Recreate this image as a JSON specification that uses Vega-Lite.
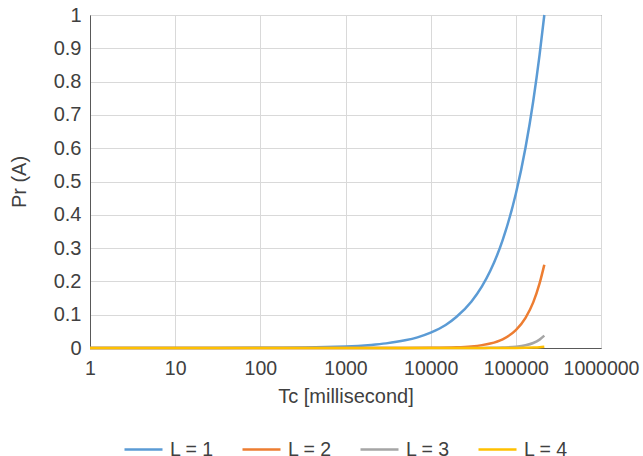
{
  "$schema": "https://vega.github.io/schema/vega-lite/v6.json",
  "width": 511,
  "height": 333,
  "autosize": {"type": "none"},
  "padding": {"left": 90, "top": 15, "right": 42, "bottom": 108},
  "background": "white",
  "config": {
    "font": "Liberation Sans",
    "view": {"stroke": "#595959", "strokeWidth": 1}
  },
  "data": {
    "values": [
      {"Tc": 1, "Pr": 0.0000046, "L": "L = 1"},
      {"Tc": 10, "Pr": 0.000046, "L": "L = 1"},
      {"Tc": 100, "Pr": 0.00046, "L": "L = 1"},
      {"Tc": 1000, "Pr": 0.0046, "L": "L = 1"},
      {"Tc": 2000, "Pr": 0.0093, "L": "L = 1"},
      {"Tc": 3000, "Pr": 0.0139, "L": "L = 1"},
      {"Tc": 5000, "Pr": 0.023, "L": "L = 1"},
      {"Tc": 7000, "Pr": 0.032, "L": "L = 1"},
      {"Tc": 10000, "Pr": 0.046, "L": "L = 1"},
      {"Tc": 15000, "Pr": 0.069, "L": "L = 1"},
      {"Tc": 20000, "Pr": 0.093, "L": "L = 1"},
      {"Tc": 30000, "Pr": 0.139, "L": "L = 1"},
      {"Tc": 40000, "Pr": 0.185, "L": "L = 1"},
      {"Tc": 50000, "Pr": 0.231, "L": "L = 1"},
      {"Tc": 70000, "Pr": 0.324, "L": "L = 1"},
      {"Tc": 100000, "Pr": 0.463, "L": "L = 1"},
      {"Tc": 130000, "Pr": 0.602, "L": "L = 1"},
      {"Tc": 160000, "Pr": 0.741, "L": "L = 1"},
      {"Tc": 190000, "Pr": 0.88, "L": "L = 1"},
      {"Tc": 216000, "Pr": 1.0, "L": "L = 1"},

      {"Tc": 1, "Pr": 0, "L": "L = 2"},
      {"Tc": 1000, "Pr": 0.0000053, "L": "L = 2"},
      {"Tc": 5000, "Pr": 0.00013, "L": "L = 2"},
      {"Tc": 10000, "Pr": 0.00054, "L": "L = 2"},
      {"Tc": 20000, "Pr": 0.0021, "L": "L = 2"},
      {"Tc": 30000, "Pr": 0.0048, "L": "L = 2"},
      {"Tc": 40000, "Pr": 0.0086, "L": "L = 2"},
      {"Tc": 50000, "Pr": 0.0134, "L": "L = 2"},
      {"Tc": 70000, "Pr": 0.0262, "L": "L = 2"},
      {"Tc": 100000, "Pr": 0.0536, "L": "L = 2"},
      {"Tc": 130000, "Pr": 0.0906, "L": "L = 2"},
      {"Tc": 160000, "Pr": 0.137, "L": "L = 2"},
      {"Tc": 190000, "Pr": 0.194, "L": "L = 2"},
      {"Tc": 216000, "Pr": 0.25, "L": "L = 2"},

      {"Tc": 1, "Pr": 0, "L": "L = 3"},
      {"Tc": 10000, "Pr": 0.0000037, "L": "L = 3"},
      {"Tc": 30000, "Pr": 0.0001, "L": "L = 3"},
      {"Tc": 50000, "Pr": 0.00046, "L": "L = 3"},
      {"Tc": 70000, "Pr": 0.0014, "L": "L = 3"},
      {"Tc": 100000, "Pr": 0.0037, "L": "L = 3"},
      {"Tc": 130000, "Pr": 0.0081, "L": "L = 3"},
      {"Tc": 160000, "Pr": 0.015, "L": "L = 3"},
      {"Tc": 190000, "Pr": 0.0252, "L": "L = 3"},
      {"Tc": 216000, "Pr": 0.037, "L": "L = 3"},

      {"Tc": 1, "Pr": 0, "L": "L = 4"},
      {"Tc": 50000, "Pr": 0.00002, "L": "L = 4"},
      {"Tc": 100000, "Pr": 0.00018, "L": "L = 4"},
      {"Tc": 130000, "Pr": 0.00051, "L": "L = 4"},
      {"Tc": 160000, "Pr": 0.00118, "L": "L = 4"},
      {"Tc": 190000, "Pr": 0.0023, "L": "L = 4"},
      {"Tc": 216000, "Pr": 0.0039, "L": "L = 4"}
    ]
  },
  "mark": {"type": "line", "strokeWidth": 2.5, "interpolate": "monotone"},
  "encoding": {
    "x": {
      "field": "Tc",
      "type": "quantitative",
      "scale": {"type": "log", "domain": [1, 1000000], "nice": false},
      "axis": {
        "values": [1, 10, 100, 1000, 10000, 100000, 1000000],
        "format": "d",
        "title": "Tc [millisecond]",
        "ticks": false,
        "domain": true,
        "domainColor": "#595959",
        "gridColor": "#d9d9d9",
        "labelFontSize": 19.5,
        "labelColor": "#404040",
        "labelPadding": 11,
        "labelOverlap": false,
        "labelFlush": false,
        "titleFontSize": 20,
        "titleFontWeight": "normal",
        "titleColor": "#404040",
        "titlePadding": 9
      }
    },
    "y": {
      "field": "Pr",
      "type": "quantitative",
      "scale": {"domain": [0, 1], "nice": false},
      "axis": {
        "values": [0, 0.1, 0.2, 0.3, 0.4, 0.5, 0.6, 0.7, 0.8, 0.9, 1],
        "format": "~g",
        "title": "Pr (A)",
        "ticks": false,
        "domainColor": "#595959",
        "gridColor": "#d9d9d9",
        "labelFontSize": 20,
        "labelColor": "#404040",
        "labelPadding": 9,
        "labelOverlap": false,
        "labelFlush": false,
        "titleFontSize": 20,
        "titleFontWeight": "normal",
        "titleColor": "#404040",
        "titlePadding": 24
      }
    },
    "color": {
      "field": "L",
      "type": "nominal",
      "scale": {
        "domain": ["L = 1", "L = 2", "L = 3", "L = 4"],
        "range": ["#5B9BD5", "#ED7D31", "#A5A5A5", "#FFC000"]
      },
      "legend": {
        "orient": "none",
        "legendX": 33,
        "legendY": 414,
        "direction": "horizontal",
        "title": null,
        "symbolType": "stroke",
        "symbolSize": 1444,
        "symbolStrokeWidth": 2.5,
        "labelFontSize": 19.5,
        "labelColor": "#404040",
        "labelLimit": 200,
        "columnPadding": 23,
        "labelOffset": 6
      }
    }
  }
}
